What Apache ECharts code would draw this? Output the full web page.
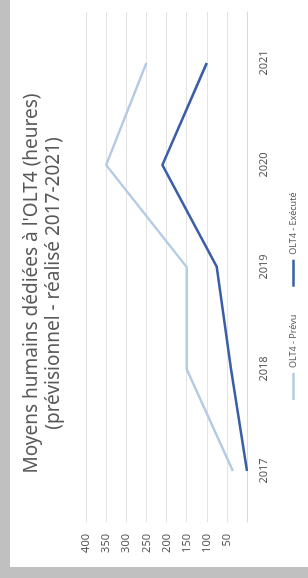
<!DOCTYPE html>
<html>
<head>
<meta charset="utf-8">
<script src="https://cdn.jsdelivr.net/npm/echarts@6/dist/echarts.min.js"></script>
<style>
  html, body { margin: 0; padding: 0; width: 308px; height: 578px; overflow: hidden; background: #fff; }
  /* the chart is drawn landscape, then turned a quarter left */
  #frame {
    position: absolute; left: 0; top: 0;
    width: 578px; height: 308px;
    background: #c0c0c0;
    transform-origin: 0 0;
    transform: translate(0, 578px) rotate(-90deg);
  }
  #main {
    position: absolute; left: 11px; top: 10px;
    width: 567px; height: 298px;
    background: #fff;
  }
</style>
</head>
<body>
<div id="frame"><div id="main"></div></div>
<script>
const titleText = "Moyens humains dédiées à l'OLT4 (heures)\n(prévisionnel - réalisé 2017-2021)"
const years = ['2017', '2018', '2019', '2020', '2021']
const prevu = [35, 150, 150, 350, 250]
const execute = [0, 40, 75, 210, 100]
const seriesNames = ['OLT4 - Prévu', 'OLT4 - Exécuté']

const font = 'Noto Sans'
const grey = '#595959'

const myChart = echarts.init(document.getElementById('main'))
const option = {
  animation: false,
  title: {
    text: titleText,
    left: 'center',
    top: 11,
    padding: [0, 33, 0, 0],
    textStyle: { fontFamily: font, fontSize: 19, lineHeight: 22, fontWeight: 'normal', color: grey }
  },
  legend: {
    data: seriesNames,
    bottom: 10,
    left: 167,
    padding: 0,
    icon: 'rect',
    itemWidth: 27,
    itemHeight: 2.5,
    itemGap: 28,
    textStyle: { fontFamily: font, fontSize: 9, color: grey }
  },
  grid: { left: 45, right: 12, top: 76, bottom: 61 },
  xAxis: {
    type: 'category',
    data: years,
    boundaryGap: true,
    axisLine: { lineStyle: { color: '#d9d9d9', width: 1 } },
    axisTick: { show: false },
    axisLabel: { fontFamily: font, fontSize: 11, color: grey, margin: 11 }
  },
  yAxis: {
    type: 'value',
    min: 0,
    max: 400,
    interval: 50,
    axisLine: { show: false },
    axisTick: { show: false },
    splitLine: { lineStyle: { color: '#e3e3e3', width: 1 } },
    axisLabel: {
      fontFamily: font, fontSize: 11, color: grey, margin: 12,
      formatter: v => (v === 0 ? '' : v)
    }
  },
  series: [
    {
      name: seriesNames[0],
      type: 'line',
      data: prevu,
      symbol: 'none',
      lineStyle: { color: '#b4cbe4', width: 2.5 },
      itemStyle: { color: '#b4cbe4' }
    },
    {
      name: seriesNames[1],
      type: 'line',
      data: execute,
      symbol: 'none',
      lineStyle: { color: '#3a5ea8', width: 2.5 },
      itemStyle: { color: '#3a5ea8' }
    }
  ]
}
myChart.setOption(option)
</script>
</body>
</html>
